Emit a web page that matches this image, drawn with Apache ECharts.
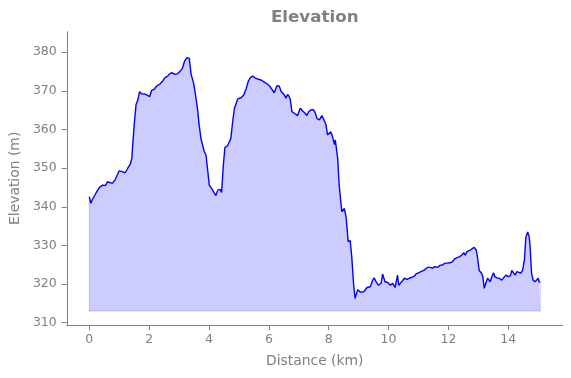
<!DOCTYPE html>
<html>
<head>
<meta charset="utf-8">
<script src="https://cdn.jsdelivr.net/npm/echarts@6/dist/echarts.min.js"></script>
<style>
html,body{margin:0;padding:0;background:#fff;}
#chart{width:571px;height:378px;}
</style>
</head>
<body>
<div id="chart"></div>
<script>
// ---- data ----
var distanceKm = [
  0.00,0.05,0.11,0.22,0.34,0.45,0.54,0.61,0.70,0.78,0.87,1.00,1.09,1.20,1.28,1.37,1.42,1.45,1.50,1.56,
  1.62,1.68,1.75,1.84,1.93,2.02,2.08,2.17,2.26,2.35,2.44,2.53,2.62,2.68,2.72,2.76,2.84,2.90,2.95,3.04,
  3.11,3.18,3.26,3.34,3.40,3.49,3.56,3.62,3.67,3.73,3.84,3.90,4.01,4.12,4.23,4.29,4.37,4.42,4.48,4.53,
  4.62,4.73,4.79,4.85,4.96,5.07,5.16,5.24,5.31,5.38,5.46,5.51,5.57,5.65,5.74,5.82,5.88,5.96,6.04,6.10,
  6.18,6.24,6.27,6.35,6.41,6.46,6.52,6.57,6.63,6.68,6.72,6.77,6.85,6.91,6.96,7.05,7.13,7.21,7.27,7.33,
  7.41,7.49,7.54,7.61,7.69,7.74,7.77,7.85,7.91,7.96,8.02,8.07,8.13,8.19,8.22,8.24,8.30,8.35,8.41,8.44,
  8.52,8.58,8.65,8.72,8.77,8.83,8.88,8.91,8.97,9.06,9.17,9.28,9.39,9.47,9.52,9.58,9.66,9.75,9.80,9.84,
  9.88,9.97,10.06,10.14,10.22,10.26,10.30,10.34,10.38,10.44,10.53,10.62,10.69,10.75,10.84,10.92,11.00,11.08,11.19,11.30,
  11.39,11.47,11.55,11.64,11.73,11.80,11.88,11.97,12.06,12.14,12.22,12.31,12.38,12.45,12.51,12.56,12.62,12.67,12.73,12.77,
  12.86,12.93,12.97,13.03,13.11,13.15,13.20,13.25,13.31,13.34,13.40,13.45,13.51,13.55,13.62,13.70,13.78,13.84,13.92,14.00,
  14.07,14.12,14.18,14.23,14.29,14.35,14.42,14.48,14.54,14.59,14.65,14.70,14.73,14.78,14.83,14.90,14.95,15.00,15.03,15.07
];
var elevationM = [
  342.6,340.9,342.0,343.5,345.0,345.6,345.5,346.5,346.2,346.1,347.1,349.3,349.1,348.8,349.9,351.0,352.5,356.0,361.2,366.4,
  367.6,369.8,369.2,369.2,368.9,368.5,370.1,370.4,371.3,371.7,372.4,373.4,373.8,374.4,373.9,374.7,374.3,373.9,374.4,375.1,
  375.8,377.6,378.6,378.4,374.4,371.8,368.4,365.0,361.2,357.7,354.3,353.4,345.6,344.3,342.9,344.3,344.5,343.7,350.8,355.3,
  355.8,357.7,362.0,365.5,367.9,368.2,368.9,370.5,372.4,373.4,373.8,373.9,373.2,373.0,372.8,372.4,372.8,371.7,371.1,370.8,
  369.5,370.7,371.3,371.2,369.8,369.4,368.9,368.1,369.1,368.5,367.6,364.6,364.2,364.6,363.6,365.5,364.8,364.2,363.6,364.6,
  365.1,365.1,364.5,362.8,362.5,362.8,363.6,362.3,361.2,358.6,359.0,359.4,358.1,356.1,357.3,357.3,352.5,345.6,340.9,338.7,
  339.6,337.4,331.0,331.2,327.1,320.2,316.3,316.1,318.5,317.9,318.0,319.1,319.3,321.0,321.6,320.6,319.7,320.2,322.6,322.8,
  320.6,320.4,319.7,320.2,319.1,319.5,322.3,319.7,319.3,320.6,321.5,321.2,321.5,321.7,321.9,322.6,322.9,323.2,323.6,324.3,
  324.3,324.1,324.5,324.3,324.9,324.9,325.4,325.4,325.5,325.8,326.6,326.9,327.1,327.5,328.1,327.5,328.4,328.5,328.8,329.2,
  329.5,328.8,327.1,323.5,322.8,321.9,318.9,320.2,321.5,321.2,320.6,321.9,322.9,321.9,321.6,321.5,321.0,321.5,322.3,321.9,
  322.1,323.5,323.8,322.3,323.2,323.6,322.8,323.6,326.2,332.2,333.5,332.2,329.7,322.8,321.0,320.6,320.9,321.5,320.6,320.4
];
var fillBase = 313.0;
var xTicks = [0, 2, 4, 6, 8, 10, 12, 14];
var yTicks = [310, 320, 330, 340, 350, 360, 370, 380];
var xRange = [-0.754, 15.82];
var yRange = [309.4, 385.3];

// ---- chart ----
var pts = distanceKm.map(function (d, i) { return [d, elevationM[i]]; });
var last = distanceKm.length - 1;
var outline = [
  [distanceKm[0], elevationM[0]], [distanceKm[0], fillBase],
  [distanceKm[last], fillBase], [distanceKm[last], elevationM[last]]
];
var gray = '#808080';
var font = 'DejaVu Sans';
var chart = echarts.init(document.getElementById('chart'), null, { renderer: 'canvas' });
chart.setOption({
  animation: false,
  backgroundColor: '#ffffff',
  title: {
    text: 'Elevation',
    left: 314.7, top: 9, textAlign: 'center', padding: 0,
    textStyle: { fontFamily: font, fontSize: 16.7, fontWeight: 'bold', color: gray }
  },
  grid: { left: 66.7, right: 8.3, top: 31.7, bottom: 53, containLabel: false },
  xAxis: {
    type: 'value', min: xRange[0], max: xRange[1],
    name: 'Distance (km)', nameLocation: 'middle', nameGap: 29,
    nameTextStyle: { fontFamily: font, fontSize: 13.9, color: gray },
    axisLine: { show: true, onZero: false, lineStyle: { color: gray, width: 1 } },
    axisTick: { show: true, length: 5, lineStyle: { color: gray }, customValues: xTicks },
    axisLabel: { fontFamily: font, fontSize: 12.5, color: gray, margin: 8, customValues: xTicks },
    splitLine: { show: false }
  },
  yAxis: {
    type: 'value', min: yRange[0], max: yRange[1],
    name: 'Elevation (m)', nameLocation: 'middle', nameGap: 41, nameRotate: 90,
    nameTextStyle: { fontFamily: font, fontSize: 13.9, color: gray },
    axisLine: { show: true, onZero: false, lineStyle: { color: gray, width: 1 } },
    axisTick: { show: true, length: 5, lineStyle: { color: gray }, customValues: yTicks },
    axisLabel: { fontFamily: font, fontSize: 12.5, color: gray, margin: 10, customValues: yTicks },
    splitLine: { show: false }
  },
  series: [
    {
      type: 'line', data: pts, showSymbol: false, symbol: 'none', smooth: false,
      lineStyle: { color: '#0000ff', width: 1.4 },
      areaStyle: { color: 'rgba(0,0,255,0.2)', origin: fillBase, opacity: 1 },
      z: 3
    },
    {
      type: 'line', data: outline, showSymbol: false, symbol: 'none',
      lineStyle: { color: 'rgba(0,0,255,0.2)', width: 1 },
      z: 2
    }
  ]
});
</script>
</body>
</html>
